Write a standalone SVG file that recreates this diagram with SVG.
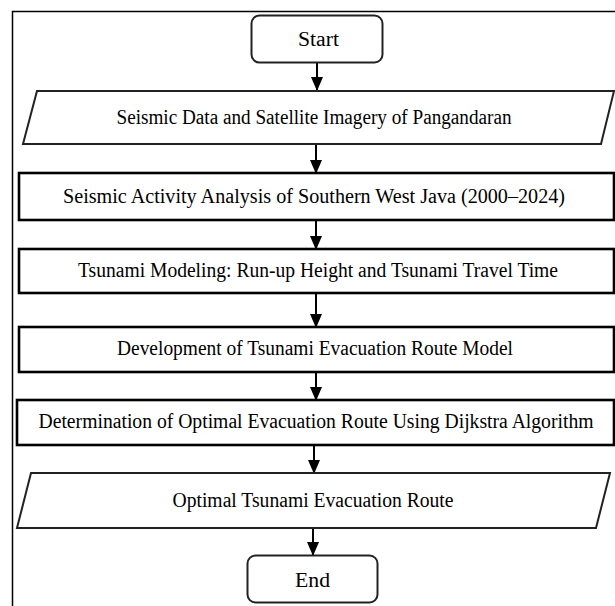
<svg xmlns="http://www.w3.org/2000/svg" width="615" height="606" viewBox="0 0 615 606">
<style>
.box{fill:#fff;stroke:#000;stroke-width:2.6}
.para{fill:#fff;stroke:#222;stroke-width:2}
.term{fill:#fff;stroke:#222;stroke-width:2}
.t{font-family:"Liberation Serif","Times New Roman",serif;font-size:20px;fill:#000;text-anchor:middle}
.c{stroke:#000;stroke-width:2;fill:none}
</style>
<defs>
<marker id="ah" markerUnits="userSpaceOnUse" markerWidth="14" markerHeight="12" refX="13" refY="6" orient="auto">
<path d="M0,0 L14,6 L0,12 Z" fill="#000"/>
</marker>
</defs>
<rect x="0" y="0" width="615" height="606" fill="#fff"/>
<rect x="12.5" y="11.5" width="700" height="700" fill="none" stroke="#000" stroke-width="1.5"/>
<g id="connectors">
<line class="c" x1="317" y1="62" x2="317" y2="90" marker-end="url(#ah)"/>
<line class="c" x1="316" y1="144" x2="316" y2="173" marker-end="url(#ah)"/>
<line class="c" x1="316" y1="220" x2="316" y2="249" marker-end="url(#ah)"/>
<line class="c" x1="316" y1="293" x2="316" y2="327" marker-end="url(#ah)"/>
<line class="c" x1="316" y1="372" x2="316" y2="400" marker-end="url(#ah)"/>
<line class="c" x1="314" y1="445" x2="314" y2="473" marker-end="url(#ah)"/>
<line class="c" x1="313" y1="528" x2="313" y2="555" marker-end="url(#ah)"/>
</g>
<g id="start">
<rect class="term" x="251.5" y="15.5" width="131" height="47" rx="8"/>
<text class="t" x="318.5" y="46" textLength="41" lengthAdjust="spacingAndGlyphs">Start</text>
</g>
<g id="data">
<polygon class="para" points="37,91 614,91 601,144 23,144"/>
<text class="t" x="314" y="124" textLength="395" lengthAdjust="spacingAndGlyphs">Seismic Data and Satellite Imagery of Pangandaran</text>
</g>
<g id="seismic">
<rect class="box" x="19" y="173" width="595" height="47"/>
<text class="t" x="314" y="203" textLength="502" lengthAdjust="spacingAndGlyphs">Seismic Activity Analysis of Southern West Java (2000–2024)</text>
</g>
<g id="tsunami">
<rect class="box" x="19" y="249" width="595" height="44"/>
<text class="t" x="318" y="277" textLength="480" lengthAdjust="spacingAndGlyphs">Tsunami Modeling: Run-up Height and Tsunami Travel Time</text>
</g>
<g id="development">
<rect class="box" x="19" y="327" width="595" height="45"/>
<text class="t" x="315" y="355" textLength="396" lengthAdjust="spacingAndGlyphs">Development of Tsunami Evacuation Route Model</text>
</g>
<g id="dijkstra">
<rect class="box" x="17" y="400" width="597" height="45"/>
<text class="t" x="316" y="428" textLength="555" lengthAdjust="spacingAndGlyphs">Determination of Optimal Evacuation Route Using Dijkstra Algorithm</text>
</g>
<g id="output">
<polygon class="para" points="31,473 610,473 596,528 17,528"/>
<text class="t" x="313" y="507" textLength="281" lengthAdjust="spacingAndGlyphs">Optimal Tsunami Evacuation Route</text>
</g>
<g id="end">
<rect class="term" x="247.5" y="555.5" width="130" height="47" rx="8"/>
<text class="t" x="312.5" y="587" textLength="35" lengthAdjust="spacingAndGlyphs">End</text>
</g>
</svg>
